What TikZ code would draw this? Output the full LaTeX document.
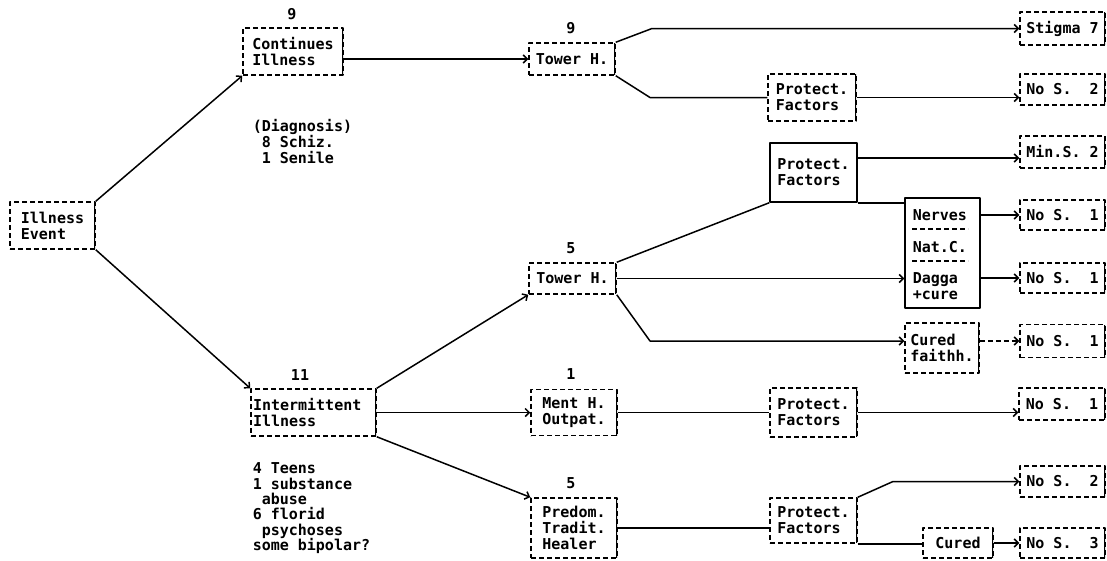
\documentclass[tikz,border=0pt]{standalone}
\usepackage{fontspec}
\setmonofont{DejaVu Sans Mono}
\usetikzlibrary{arrows.meta}

\begin{document}
\begin{tikzpicture}
    [x=1pt,y=-1pt,line width=1.5pt,line join=round,
    every node/.style={font=\ttfamily\bfseries\fontsize{15}{16}\selectfont},
    box/.style={draw,dash pattern=on 5pt off 3pt,align=left,inner sep=2pt,
        path picture={\draw[solid,line width=3pt] (path picture bounding box.north east)--(path picture bounding box.south east);}},
    sbox/.style={draw,solid,align=left,inner sep=2pt},
    txt/.style={inner sep=0pt,align=left},
    divline/.style={dash pattern=on 5pt off 3pt},
    arr/.style={-{Straight Barb[length=4pt,width=8pt]}}]
    \useasboundingbox (0,0) rectangle (1107,560);
    %start
    \node[box,minimum width=85,minimum height=47] (ev) at (52.5,225.5) {Illness\\Event};
    %continues illness branch
    \node[box,minimum width=100,minimum height=47] (cont) at (293,51.5) {Continues\\Illness};
    \node (c9) at (292,14) {9};
    \node[txt,anchor=north west] (diag) at (252,119) {(Diagnosis)\\\hphantom{8}8 Schiz.\\\hphantom{1}1 Senile};
    \node[box,minimum width=86,minimum height=32] (towA) at (572,59) {Tower H.};
    \node (t9) at (571,28) {9};
    \node[box,minimum width=88,minimum height=47] (pfA) at (812,97.5) {Protect.\\Factors};
    \node[box,minimum width=85,minimum height=33] (stig) at (1062.5,28.5) {Stigma 7};
    \node[box,minimum width=85,minimum height=31] (nsA) at (1062.5,89.5) {No S.~~2};
    %intermittent illness branch
    \node[box,text width=121,minimum height=47] (intm) at (313.5,412.5) {Intermittent\\Illness};
    \node (i11) at (300,375) {11};
    \node[txt,anchor=north west,font=\ttfamily\bfseries\fontsize{15}{15.4}\selectfont] (notes) at (252,462)
        {4 Teens\\1 substance\\\hphantom{1}abuse\\6 florid\\\hphantom{6}psychoses\\some bipolar?};
    %tower h. (5)
    \node[box,minimum width=87,minimum height=31] (towB) at (572.5,278.5) {Tower H.};
    \node (t5) at (571,248) {5};
    \node[sbox,minimum width=87,minimum height=59] (pfB) at (813.5,172.5) {Protect.\\Factors};
    \node[box,minimum width=85,minimum height=32] (minS) at (1062.5,152) {Min.S. 2};
    \node[sbox,minimum width=75,minimum height=110] (nerves) at (942.5,253) {};
    \node[txt,anchor=west] (nrv) at (912,215) {Nerves};
    \node[txt,anchor=west] (natc) at (912,247) {Nat.C.};
    \node[txt,anchor=west] (dagga) at (912,286) {Dagga\\+cure};
    \draw[divline] (912,229) -- (968,229);
    \draw[divline] (912,261) -- (968,261);
    \node[box,minimum width=85,minimum height=30] (nsB) at (1062.5,215) {No S.~~1};
    \node[box,minimum width=85,minimum height=30] (nsC) at (1062.5,278) {No S.~~1};
    \node[box,minimum width=74,minimum height=50] (cf) at (942,348) {Cured\\faithh.};
    \node[box,minimum width=85,minimum height=33] (nsD) at (1062.5,341) {No S.~~1};
    %ment h. (1)
    \node[box,minimum width=86,minimum height=46] (mh) at (574,412.5) {Ment H.\\Outpat.};
    \node (m1) at (571,374) {1};
    \node[box,minimum width=87,minimum height=49] (pfC) at (813.5,412.5) {Protect.\\Factors};
    \node[box,minimum width=86,minimum height=32] (nsE) at (1062,404) {No S.~~1};
    %predom. tradit. healer (5)
    \node[box,minimum width=86,minimum height=60] (pd) at (574,528) {Predom.\\Tradit.\\Healer};
    \node (p5) at (571,483) {5};
    \node[box,minimum width=87,minimum height=45] (pfD) at (813.5,520.5) {Protect.\\Factors};
    \node[box,minimum width=85,minimum height=31] (nsF) at (1062.5,481.5) {No S.~~2};
    \node[box,minimum width=70,minimum height=30] (cur) at (958,543) {Cured};
    \node[box,minimum width=85,minimum height=30] (nsG) at (1062.5,543) {No S.~~3};
    %connectors
    \draw[arr] (ev.north east) -- (cont.south west);
    \draw[arr] (ev.south east) -- (intm.north west);
    \draw[arr] (cont.east |- towA.west) -- (towA.west);
    \draw[arr] (towA.north east) -- (652,28.5) -- (stig.west);
    \draw (towA.south east) -- (650,97.5) -- (pfA.west);
    \draw[arr] (pfA.east) -- (pfA.east -| nsA.west);
    \draw[arr] (intm.north east) -- (towB.south west);
    \draw[arr] (intm.east) -- (mh.west);
    \draw[arr] (intm.south east) -- (pd.north west);
    \draw (towB.north east) -- (pfB.south west);
    \draw[arr] ([yshift=14.5pt]pfB.east) -- ([yshift=14.5pt]pfB.east -| minS.west);
    \draw (pfB.south east) -- (pfB.south east -| nerves.west);
    \draw[arr] (towB.east) -- (towB.east -| nerves.west);
    \draw[arr] (nerves.east |- nsB.west) -- (nsB.west);
    \draw[arr] (nerves.east |- nsC.west) -- (nsC.west);
    \draw[arr] (towB.south east) -- (650,341) -- (cf.west |- nsD.west);
    \draw[arr,divline] (cf.east |- nsD.west) -- (nsD.west);
    \draw (mh.east) -- (pfC.west);
    \draw[arr] (pfC.east) -- (pfC.east -| nsE.west);
    \draw (pd.east) -- (pd.east -| pfD.west);
    \draw[arr] (pfD.north east) -- (893,481.5) -- (nsF.west);
    \draw (pfD.south east) -- (pfD.south east -| cur.west);
    \draw[arr] (cur.east) -- (nsG.west);
\end{tikzpicture}
\end{document}
